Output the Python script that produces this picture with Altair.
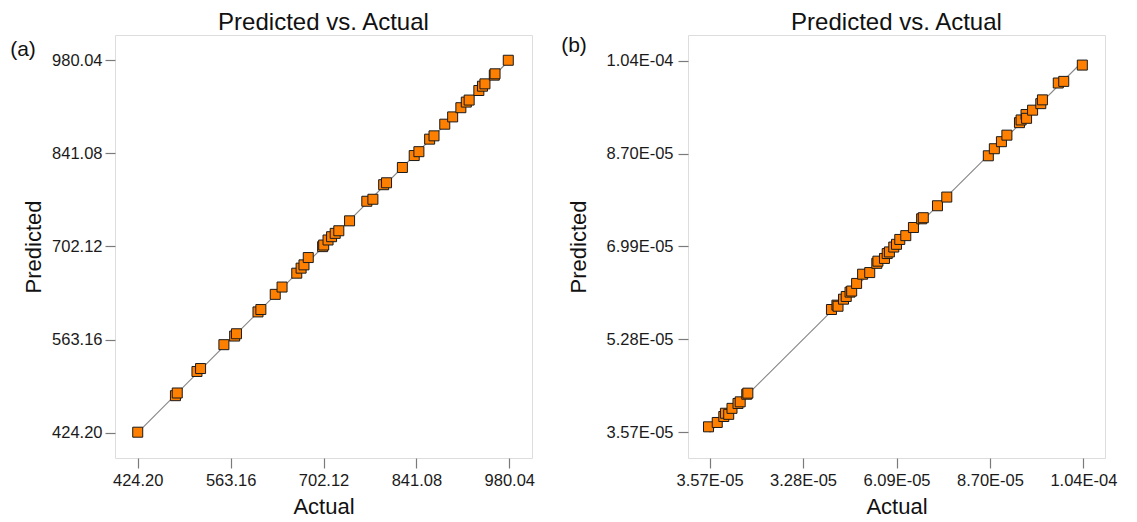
import altair as alt
import pandas as pd

# ---------------- data ----------------
a_actual = [424.2, 480.6, 483.3, 512.8, 518.2, 553.1, 569.2, 571.9, 604.1, 608.4,
            629.9, 640.1, 662.1, 668.6, 672.9, 679.3, 700.8, 702.4, 708.9, 714.2,
            719.6, 725.0, 741.1, 766.9, 776.0, 792.1, 796.4, 820.1, 837.8, 844.8,
            860.9, 867.4, 883.5, 895.3, 907.6, 915.7, 920.0, 934.5, 939.9, 943.6,
            957.6, 958.7, 978.5]
a_pred = [425.0, 479.5, 483.5, 515.6, 520.0, 555.6, 568.5, 571.9, 604.5, 608.0,
          630.7, 641.6, 662.3, 669.8, 674.7, 685.6, 701.9, 704.3, 711.8, 716.7,
          721.7, 725.6, 740.4, 769.6, 772.6, 794.3, 797.2, 820.0, 837.8, 843.6,
          862.3, 867.2, 884.6, 895.5, 909.2, 917.6, 920.6, 934.9, 941.3, 944.8,
          957.8, 959.8, 980.0]

b_actual = [3.55e-5, 3.71e-5, 3.83e-5, 3.86e-5, 3.92e-5, 3.98e-5, 4.09e-5, 4.13e-5,
            4.25e-5, 4.27e-5, 5.80e-5, 5.90e-5, 5.92e-5, 6.02e-5, 6.07e-5, 6.14e-5,
            6.17e-5, 6.26e-5, 6.37e-5, 6.50e-5, 6.63e-5, 6.65e-5, 6.77e-5, 6.82e-5,
            6.86e-5, 6.94e-5, 6.99e-5, 7.05e-5, 7.16e-5, 7.30e-5, 7.45e-5, 7.48e-5,
            7.74e-5, 7.91e-5, 8.67e-5, 8.78e-5, 8.91e-5, 9.01e-5, 9.24e-5, 9.27e-5,
            9.36e-5, 9.37e-5, 9.48e-5, 9.63e-5, 9.66e-5, 9.95e-5, 10.05e-5, 10.39e-5]
b_pred = [3.67e-5, 3.75e-5, 3.86e-5, 3.92e-5, 3.90e-5, 4.01e-5, 4.10e-5, 4.13e-5,
          4.27e-5, 4.29e-5, 5.83e-5, 5.91e-5, 5.89e-5, 6.02e-5, 6.07e-5, 6.15e-5,
          6.17e-5, 6.31e-5, 6.48e-5, 6.51e-5, 6.68e-5, 6.72e-5, 6.77e-5, 6.86e-5,
          6.89e-5, 6.98e-5, 7.03e-5, 7.12e-5, 7.19e-5, 7.34e-5, 7.50e-5, 7.52e-5,
          7.74e-5, 7.90e-5, 8.66e-5, 8.79e-5, 8.92e-5, 9.04e-5, 9.27e-5, 9.32e-5,
          9.42e-5, 9.35e-5, 9.50e-5, 9.62e-5, 9.69e-5, 10.00e-5, 10.03e-5, 10.33e-5]

a_ticks = [424.20, 563.16, 702.12, 841.08, 980.04]
b_ticks = [3.57e-5, 5.28e-5, 6.99e-5, 8.70e-5, 1.041e-4]
b_y_labels = ["3.57E-05", "5.28E-05", "6.99E-05", "8.70E-05", "1.04E-04"]
b_x_labels = ["3.57E-05", "3.28E-05", "6.09E-05", "8.70E-05", "1.04E-04"]

a_line = [424.20, 980.04]
b_line = [3.57e-5, 1.041e-4]

panel_tags = ["(a)", "(b)"]
title_text = "Predicted vs. Actual"

FONT = "Liberation Sans"
ORANGE = "#FF8000"


def label_expr(ticks, labels):
    expr = "'" + labels[-1] + "'"
    for i in range(len(ticks) - 2, -1, -1):
        mid = (ticks[i] + ticks[i + 1]) / 2
        expr = f"datum.value < {mid!r} ? '{labels[i]}' : ({expr})"
    return expr


def panel(actual, pred, line, xdom, ydom, xaxis, yaxis, tag, tag_x, tag_y, w, h, toff):
    pts = pd.DataFrame({"actual": actual, "predicted": pred})
    ln = pd.DataFrame({"actual": line, "predicted": line})
    x = alt.X("actual:Q", scale=alt.Scale(domain=xdom, nice=False, zero=False), axis=xaxis)
    y = alt.Y("predicted:Q", scale=alt.Scale(domain=ydom, nice=False, zero=False), axis=yaxis)
    line_layer = alt.Chart(ln).mark_line(color="#858585", strokeWidth=1.1).encode(x=x, y=y)
    pt_layer = alt.Chart(pts).mark_point(
        shape="square", size=100, filled=True, fill=ORANGE, stroke="#1a1a1a",
        strokeWidth=1, opacity=1
    ).encode(x=x, y=y)
    tag_layer = alt.Chart(pd.DataFrame({"t": [tag]})).mark_text(
        font=FONT, fontSize=21, align="center", baseline="middle", color="#111"
    ).encode(x=alt.value(tag_x), y=alt.value(tag_y), text="t:N")
    return alt.layer(line_layer, pt_layer, tag_layer).properties(
        width=w, height=h,
        title=alt.TitleParams(title_text, font=FONT, fontSize=24, fontWeight="normal",
                              color="#111", anchor="middle", frame="group", offset=toff),
    )


common = dict(domain=False, grid=False, tickColor="#7a7a7a", tickSize=10, tickWidth=1.2,
              labelFont=FONT, labelFontSize=16.5, labelColor="#1a1a1a",
              titleFont=FONT, titleFontSize=22, titleFontWeight="normal", titleColor="#111")

a_x_axis = alt.Axis(values=a_ticks, format=".2f", title="Actual", labelPadding=4,
                    titlePadding=8, **common)
a_y_axis = alt.Axis(values=a_ticks, format=".2f", title="Predicted", labelPadding=3,
                    titlePadding=6, **common)
b_x_axis = alt.Axis(values=b_ticks, labelExpr=label_expr(b_ticks, b_x_labels), title="Actual",
                    labelPadding=4, titlePadding=8, **common)
b_y_axis = alt.Axis(values=b_ticks, labelExpr=label_expr(b_ticks, b_y_labels), title="Predicted",
                    labelPadding=5, titlePadding=16, **common)

left = panel(a_actual, a_pred, a_line, [390.2, 1014.0], [386.5, 1017.7],
             a_x_axis, a_y_axis, panel_tags[0], -92, 15, 417, 423, 0)
right = panel(b_actual, b_pred, b_line, [3.175e-5, 10.805e-5], [3.096e-5, 10.884e-5],
              b_x_axis, b_y_axis, panel_tags[1], -114, 11, 417, 423, 0)

chart = alt.hconcat(left, right, spacing=24).properties(
    padding={"left": 1, "top": 2, "right": 0, "bottom": 0}
).configure_view(stroke="#a0a0a0", strokeWidth=1.5).configure(background="white")

chart.save("out.html", embed_options={"renderer": "svg", "actions": False})
